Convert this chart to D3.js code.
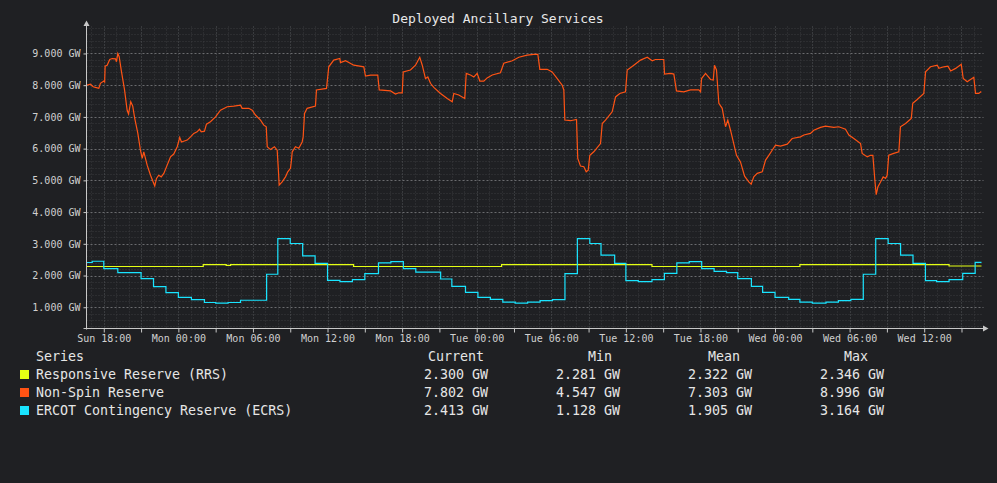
<!DOCTYPE html>
<html>
<head>
<meta charset="utf-8">
<script src="https://cdn.jsdelivr.net/npm/d3@7"></script>
<style>
    body { margin: 0; background: #1f2023; }
    svg text { font-family: "DejaVu Sans Mono", monospace; }
</style>
</head>
<body>
<svg id="chart"></svg>
<script>
// hours are counted from Sun 18:00 (UTC), values in GW
const windowStart = -1.39;
const windowEnd = 70.61;

const rrsHours = [-1.39, 8.0, 9.85, 10.2, 20.1, 32.0, 44.1, 56.0, 68.0, 70.61];
const rrsValues = [2.285, 2.345, 2.32, 2.345, 2.285, 2.345, 2.285, 2.345, 2.30, 2.30];

const ecrsHours = [-1.39, -0.93, 0.0, 1.13, 3.0, 4.0, 5.0, 6.0, 7.05, 8.1, 9.0, 10.0, 11.0, 13.1, 14.0, 15.0, 16.0, 17.0,
    18.0, 19.0, 20.0, 21.0, 22.1, 23.1, 24.1, 25.1, 27.1, 28.0, 29.1, 30.1, 31.1, 32.1, 33.1, 34.1, 35.1, 36.1,
    37.1, 38.1, 39.1, 40.0, 41.1, 42.0, 43.0, 44.1, 45.1, 46.1, 47.1, 48.1, 49.1, 50.1, 51.0, 52.1, 53.0, 54.0,
    55.1, 56.0, 57.0, 58.1, 59.1, 60.1, 61.1, 62.1, 63.1, 64.1, 65.1, 66.1, 67.0, 68.0, 69.1, 70.1, 70.61];
const ecrsValues = [2.41, 2.45, 2.22, 2.09, 1.905, 1.65, 1.46, 1.31, 1.24, 1.15, 1.13, 1.15, 1.22, 2.04, 3.164, 3.01, 2.62, 2.38,
    1.85, 1.81, 1.87, 2.06, 2.40, 2.44, 2.22, 2.11, 1.89, 1.66, 1.47, 1.31, 1.25, 1.16, 1.13, 1.16, 1.21, 1.24,
    2.06, 3.164, 3.01, 2.64, 2.38, 1.84, 1.81, 1.87, 2.07, 2.40, 2.44, 2.22, 2.13, 2.09, 1.905, 1.66, 1.47, 1.31,
    1.25, 1.16, 1.128, 1.16, 1.21, 1.25, 2.04, 3.164, 3.01, 2.64, 2.38, 1.84, 1.81, 1.87, 2.07, 2.413, 2.413];

const nonSpinHours = [-1.34, -1.07, -0.85, -0.67, -0.40, -0.27, 0.0, 0.07, 0.11, 0.27, 0.48, 0.68, 0.94, 1.02, 1.13, 1.24,
    1.40, 1.67, 1.88, 1.99, 2.17, 2.33, 2.49, 2.74, 2.95, 3.09, 3.22, 3.49, 3.76, 4.10, 4.24, 4.42, 4.62, 4.83,
    5.10, 5.37, 5.63, 5.91, 6.11, 6.25, 6.71, 6.98, 7.24, 7.51, 7.70, 7.84, 8.10, 8.26, 8.58, 8.99, 9.39, 9.93,
    10.46, 11.00, 11.13, 11.67, 11.94, 12.20, 12.61, 12.87, 13.07, 13.15, 13.41, 13.73, 13.95, 14.05, 14.11, 14.35,
    14.62, 14.80, 15.02, 15.10, 15.16, 15.42, 15.69, 15.96, 16.04, 16.15, 16.36, 17.03, 17.11, 17.92, 18.10, 18.50,
    18.99, 19.04, 19.45, 20.11, 20.92, 21.05, 21.46, 22.04, 22.16, 23.07, 23.47, 23.73, 24.01, 24.09, 24.67, 25.08,
    25.42, 25.62, 25.88, 26.07, 26.28, 26.55, 27.09, 27.63, 28.03, 28.16, 28.56, 29.04, 29.16, 29.50, 29.77, 30.04,
    30.25, 30.57, 30.84, 31.25, 31.91, 32.18, 32.86, 33.39, 34.06, 34.59, 34.92, 35.08, 35.67, 36.07, 36.48, 36.88,
    37.01, 37.09, 37.55, 38.03, 38.13, 38.35, 38.62, 38.81, 38.97, 39.10, 39.42, 39.96, 40.10, 40.36, 40.90, 41.17,
    41.51, 41.97, 42.11, 42.64, 43.18, 43.72, 44.12, 44.38, 45.05, 45.11, 45.59, 45.86, 46.07, 46.66, 47.20, 47.87,
    48.01, 48.09, 48.41, 48.81, 49.03, 49.13, 49.29, 49.48, 49.75, 50.02, 50.20, 50.42, 50.90, 51.22, 51.55, 51.89,
    52.08, 52.29, 52.57, 52.97, 53.24, 53.50, 53.77, 54.04, 54.44, 54.98, 55.38, 56.05, 56.32, 56.85, 57.12, 57.66,
    58.06, 58.73, 59.13, 59.67, 59.94, 60.34, 60.88, 61.01, 61.42, 61.68, 61.87, 62.03, 62.14, 62.27, 62.49, 62.70,
    62.89, 63.02, 63.15, 63.55, 63.96, 64.09, 64.50, 64.96, 65.08, 65.44, 65.97, 66.11, 66.51, 67.05, 67.18, 67.58,
    67.91, 68.13, 68.53, 68.98, 69.14, 69.46, 69.99, 70.13, 70.39, 70.59];
const nonSpinValues = [8.00, 8.03, 7.95, 7.93, 7.90, 8.06, 8.13, 8.10, 8.60, 8.63, 8.81, 8.84, 8.83, 8.74, 8.996, 8.90,
    8.48, 7.85, 7.21, 7.09, 7.48, 7.34, 6.95, 6.48, 5.95, 5.69, 5.90, 5.48, 5.16, 4.82, 5.06, 5.16, 5.11, 5.22,
    5.48, 5.74, 5.83, 6.06, 6.35, 6.21, 6.27, 6.37, 6.48, 6.53, 6.61, 6.53, 6.55, 6.77, 6.85, 7.00, 7.21, 7.32,
    7.34, 7.37, 7.27, 7.27, 7.21, 7.06, 6.90, 6.74, 6.69, 6.06, 5.97, 6.06, 5.95, 5.30, 4.85, 4.95,
    5.11, 5.27, 5.38, 5.64, 5.90, 6.06, 6.01, 6.21, 6.37, 7.11, 7.27, 7.34, 7.85, 7.90, 8.58, 8.79,
    8.84, 8.71, 8.77, 8.63, 8.58, 8.29, 8.32, 8.32, 7.85, 7.82, 7.72, 7.76, 7.76, 8.42, 8.48, 8.63,
    8.88, 8.63, 8.21, 8.26, 8.06, 7.93, 7.74, 7.58, 7.48, 7.74, 7.69, 7.58, 8.37, 8.32, 8.26, 8.37,
    8.13, 8.13, 8.23, 8.32, 8.39, 8.69, 8.77, 8.88, 8.95, 8.97, 8.97, 8.50, 8.50, 8.42, 8.21, 8.00,
    7.85, 6.90, 6.88, 6.92, 5.69, 5.45, 5.43, 5.27, 5.32, 5.79, 5.90, 6.16, 6.79, 6.90, 7.16, 7.63,
    7.74, 7.79, 8.48, 8.63, 8.79, 8.88, 8.77, 8.81, 8.81, 8.35, 8.37, 8.35, 7.82, 7.79, 7.85, 7.85,
    7.79, 8.21, 8.37, 8.18, 8.16, 8.63, 8.48, 7.43, 7.27, 6.69, 6.90, 6.58, 5.79, 5.58, 5.13, 4.95,
    4.88, 5.11, 5.22, 5.27, 5.64, 5.79, 5.95, 6.11, 6.08, 6.14, 6.32, 6.37, 6.43, 6.48, 6.58, 6.67,
    6.71, 6.67, 6.69, 6.61, 6.43, 6.32, 6.16, 5.85, 5.74, 5.79, 5.79, 5.01, 4.547, 4.79, 4.95, 5.11,
    5.06, 5.16, 5.79, 5.85, 5.90, 6.69, 6.79, 6.95, 7.43, 7.55, 7.74, 8.42, 8.58, 8.63, 8.53, 8.58,
    8.60, 8.45, 8.53, 8.66, 8.21, 8.11, 8.25, 7.74, 7.74, 7.802];

const yTicks = [1, 2, 3, 4, 5, 6, 7, 8, 9];
const seriesNames = ["Responsive Reserve (RRS)", "Non-Spin Reserve", "ERCOT Contingency Reserve (ECRS)"];
const seriesColors = ["#e5ff14", "#ff5314", "#19e4ff"];
const statHeaders = ["Current", "Min", "Mean", "Max"];
const statCurrent = ["2.300 GW", "7.802 GW", "2.413 GW"];
const statMin = ["2.281 GW", "4.547 GW", "1.128 GW"];
const statMean = ["2.322 GW", "7.303 GW", "1.905 GW"];
const statMax = ["2.346 GW", "8.996 GW", "3.164 GW"];

const baseTime = Date.UTC(2025, 0, 5, 18, 0);
const toDate = h => new Date(baseTime + h * 3600e3);

class AncillaryChart {
    constructor(_config) {
        this.config = {
            parentElement: _config.parentElement,
            title: _config.title,
            width: 997,
            height: 483,
            plot: { left: 86.5, right: 981.5, top: 26.5, bottom: 328.5 }
        };
        this.initVis();
    }

    initVis() {
        let vis = this;
        const p = vis.config.plot;

        vis.svg = d3.select(vis.config.parentElement)
            .attr('width', vis.config.width)
            .attr('height', vis.config.height);

        vis.svg.append('rect')
            .attr('width', vis.config.width)
            .attr('height', vis.config.height)
            .attr('fill', '#1f2023');

        vis.xScale = d3.scaleUtc()
            .domain([toDate(windowStart), toDate(windowEnd)])
            .range([p.left, p.right]);

        vis.yScale = d3.scaleLinear()
            .domain([0.33, 9.85])
            .range([p.bottom, p.top]);

        vis.svg.append('text')
            .attr('x', 498)
            .attr('y', 23)
            .attr('text-anchor', 'middle')
            .attr('fill', '#e8e8e8')
            .style('font-size', '13px')
            .text(vis.config.title);

        vis.grid = vis.svg.append('g').attr('class', 'grid');
        vis.lines = vis.svg.append('g').attr('class', 'lines');
        vis.axes = vis.svg.append('g').attr('class', 'axes');
        vis.legend = vis.svg.append('g').attr('class', 'legend');
    }

    renderVis() {
        let vis = this;
        const p = vis.config.plot;
        const x = vis.xScale, y = vis.yScale;

        // grid: minor every 0.2 GW / 1 h, major every 1 GW / 3 h
        const minorY = d3.range(0.4, 9.85, 0.2).filter(v => Math.abs(v - Math.round(v)) > 0.01);
        const hourTicks = x.ticks(d3.utcHour.every(1));
        const minorX = hourTicks.filter(d => d.getUTCHours() % 3 !== 0);
        const majorX = hourTicks.filter(d => d.getUTCHours() % 3 === 0);

        vis.grid.selectAll('.minor-y').data(minorY).join('line')
            .attr('class', 'minor-y')
            .attr('x1', p.left).attr('x2', p.right + 2)
            .attr('y1', d => Math.round(y(d)) + 0.5).attr('y2', d => Math.round(y(d)) + 0.5)
            .attr('stroke', '#3a3b3f').attr('stroke-dasharray', '1,2');

        vis.grid.selectAll('.minor-x').data(minorX).join('line')
            .attr('class', 'minor-x')
            .attr('x1', d => Math.round(x(d)) + 0.5).attr('x2', d => Math.round(x(d)) + 0.5)
            .attr('y1', p.top).attr('y2', p.bottom)
            .attr('stroke', '#3a3b3f').attr('stroke-dasharray', '1,2');

        vis.grid.selectAll('.major-y').data(yTicks).join('line')
            .attr('class', 'major-y')
            .attr('x1', p.left).attr('x2', p.right + 2)
            .attr('y1', d => Math.round(y(d)) + 0.5).attr('y2', d => Math.round(y(d)) + 0.5)
            .attr('stroke', '#6a6b6e').attr('stroke-dasharray', '2,2');

        vis.grid.selectAll('.major-x').data(majorX).join('line')
            .attr('class', 'major-x')
            .attr('x1', d => Math.round(x(d)) + 0.5).attr('x2', d => Math.round(x(d)) + 0.5)
            .attr('y1', p.top).attr('y2', p.bottom)
            .attr('stroke', '#55565a').attr('stroke-dasharray', '1,2');

        // series
        const series = [
            { hours: rrsHours, values: rrsValues, color: seriesColors[0], curve: d3.curveStepAfter },
            { hours: nonSpinHours, values: nonSpinValues, color: seriesColors[1], curve: d3.curveLinear },
            { hours: ecrsHours, values: ecrsValues, color: seriesColors[2], curve: d3.curveStepAfter }
        ];

        vis.lines.selectAll('path').data(series).join('path')
            .attr('fill', 'none')
            .attr('stroke', d => d.color)
            .attr('stroke-width', 1.2)
            .attr('d', d => d3.line()
                .curve(d.curve)
                .x(i => x(toDate(d.hours[i])))
                .y(i => y(d.values[i]))(d3.range(d.hours.length)));

        // axes
        const axisColor = '#c8c8c8';
        const yAxis = d3.axisLeft(y)
            .tickValues(yTicks)
            .tickSize(3)
            .tickPadding(3)
            .tickFormat(d => d3.format('.3f')(d) + ' GW');
        const yAxisG = vis.axes.append('g')
            .attr('transform', `translate(${p.left},0)`)
            .call(yAxis);
        yAxisG.select('.domain').remove();

        const xAxis = d3.axisBottom(x)
            .ticks(d3.utcHour.every(3))
            .tickSize(4)
            .tickPadding(2)
            .tickFormat(d => d.getUTCHours() % 6 === 0 ? d3.utcFormat('%a %H:%M')(d) : '');
        const xAxisG = vis.axes.append('g')
            .attr('transform', `translate(0,${p.bottom})`)
            .call(xAxis);
        xAxisG.select('.domain').remove();

        vis.axes.selectAll('.tick line').attr('stroke', axisColor);
        vis.axes.selectAll('.tick text')
            .attr('fill', '#d0d0d0')
            .style('font-size', '10px')
            .style('font-family', '"DejaVu Sans Mono", monospace');

        vis.axes.append('line')
            .attr('x1', p.left).attr('x2', p.left)
            .attr('y1', p.bottom + 1).attr('y2', 24)
            .attr('stroke', axisColor);
        vis.axes.append('path')
            .attr('d', `M${p.left - 3},26 L${p.left},20.5 L${p.left + 3},26 Z`)
            .attr('fill', axisColor);
        vis.axes.append('line')
            .attr('x1', p.left - 3).attr('x2', 985)
            .attr('y1', p.bottom).attr('y2', p.bottom)
            .attr('stroke', axisColor);
        vis.axes.append('path')
            .attr('d', `M983,${p.bottom - 3} L988.5,${p.bottom} L983,${p.bottom + 3} Z`)
            .attr('fill', axisColor);

        // legend table
        const textColor = '#e6e6e6';
        const rowY = [378.5, 396.5, 414.5];
        const headerX = [456, 600, 724, 856];
        const valueX = [456, 588, 720, 852];
        const columns = [statCurrent, statMin, statMean, statMax];

        vis.legend.append('text')
            .attr('x', 36).attr('y', 360.5)
            .attr('fill', textColor)
            .style('font-size', '13.3px')
            .text('Series');

        vis.legend.selectAll('.hdr').data(statHeaders).join('text')
            .attr('class', 'hdr')
            .attr('x', (d, i) => headerX[i]).attr('y', 360.5)
            .attr('text-anchor', 'middle')
            .attr('fill', textColor)
            .style('font-size', '13.3px')
            .text(d => d);

        const rows = vis.legend.selectAll('.row').data(seriesNames).join('g')
            .attr('class', 'row')
            .attr('transform', (d, i) => `translate(0,${rowY[i]})`);

        rows.append('rect')
            .attr('x', 20).attr('y', -8.5)
            .attr('width', 9).attr('height', 9)
            .attr('fill', (d, i) => seriesColors[i]);

        rows.append('text')
            .attr('x', 36).attr('y', 0)
            .attr('fill', textColor)
            .style('font-size', '13.3px')
            .text(d => d);

        columns.forEach((col, c) => {
            rows.append('text')
                .attr('x', valueX[c]).attr('y', 0)
                .attr('text-anchor', 'middle')
                .attr('fill', textColor)
                .style('font-size', '13.3px')
                .text((d, i) => col[i]);
        });
    }
}

const chart = new AncillaryChart({ parentElement: '#chart', title: 'Deployed Ancillary Services' });
chart.renderVis();
</script>
</body>
</html>
